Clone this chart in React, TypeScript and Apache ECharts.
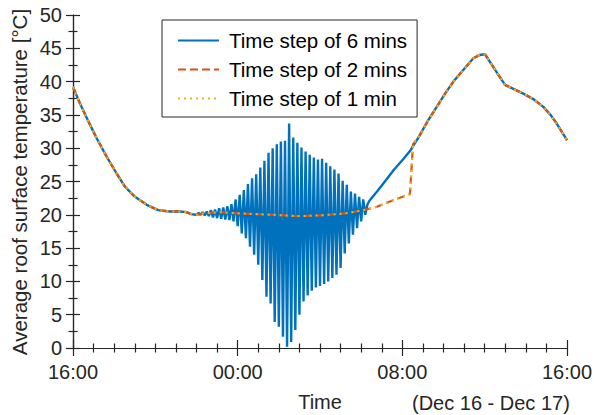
import React, { useEffect, useRef } from "react";
import * as echarts from "echarts";

// Hours after 16:00 on Dec 16
const X_TICK_LABELS = ["16:00", "00:00", "08:00", "16:00"];
const SERIES_NAMES = ["Time step of 6 mins", "Time step of 2 mins", "Time step of 1 min"];

// Evening cooling (shared by all three runs)
const coolingHours = [0, 0.34, 0.83, 1.15, 1.64, 2.12, 2.53, 3.01, 3.58, 4.14, 4.71, 5.2, 5.5, 5.75, 5.95, 6.0];
const coolingTemps = [39.2, 36.7, 33.5, 31.5, 28.7, 26.2, 24.2, 22.7, 21.5, 20.7, 20.5, 20.5, 20.4, 20.1, 20.0, 20.0];

// 6-min run: numerical oscillation, alternating step values (first at 22:06)
const OSC_START_HOUR = 6.1;
const STEP_6MIN = 0.1;
const osc6minHigh = [
  20.3, 20.4, 20.5, 20.7, 20.8, 21.0, 21.1, 21.3, 21.6, 22.3, 23.0, 23.7, 24.6, 25.5,
  26.1, 27.1, 28.1, 29.3, 30.0, 30.6, 31.0, 31.1, 33.7, 31.6, 30.8, 30.1, 29.5, 29.0,
  28.6, 28.3, 28.4, 27.8, 27.3, 26.8, 26.2, 25.1, 24.5, 23.5, 23.2, 22.7, 22.3, 21.5,
];
const osc6minLow = [
  20.0, 19.9, 19.8, 19.6, 19.5, 19.4, 19.3, 19.2, 19.0, 18.3, 17.2, 16.5, 15.2, 14.0,
  12.5, 10.2, 7.7, 6.7, 3.9, 3.2, 1.7, 0.2, 0.9, 2.7, 5.0, 7.0, 7.9, 8.6, 9.1, 9.3,
  9.6, 10.0, 10.5, 11.0, 12.0, 14.2, 15.7, 17.0, 18.0, 19.0, 20.0,
];
const rise6minHours = [14.4, 14.8, 15.2, 15.6, 16.0, 16.4];
const rise6minTemps = [22.1, 23.6, 25.2, 26.8, 28.2, 29.7];

// 2-min / 1-min runs: night plateau and morning jump
const plateauHours = [6.32, 7.14, 8.11, 8.94, 10.4, 10.9, 12.0, 13.2, 14.1, 14.76, 15.56, 16.37, 16.52];
const plateauTemps = [20.2, 20.4, 20.2, 20.1, 19.9, 19.8, 19.9, 20.2, 20.7, 21.2, 22.2, 23.1, 30.6];

// Daytime (shared by all three runs)
const daytimeHours = [16.8, 17.2, 17.67, 18.1, 18.48, 19.0, 19.45, 19.75, 20.02, 20.5, 20.99, 21.4, 21.88, 22.4, 22.85, 23.2, 23.5, 24.0];
const daytimeTemps = [31.7, 33.9, 36.2, 38.3, 40.0, 41.9, 43.5, 44.0, 44.1, 41.8, 39.5, 38.9, 38.2, 37.3, 36.2, 35.0, 33.7, 31.2];

const pairs = (h: number[], v: number[]) => h.map((t, i) => [t, v[i]]);

function build6min() {
  const osc: number[][] = [];
  for (let k = 0; k < osc6minHigh.length; k++) {
    osc.push([OSC_START_HOUR + 2 * k * STEP_6MIN, osc6minHigh[k]]);
    if (k < osc6minLow.length) osc.push([OSC_START_HOUR + (2 * k + 1) * STEP_6MIN, osc6minLow[k]]);
  }
  return [
    ...pairs(coolingHours, coolingTemps),
    ...osc,
    ...pairs(rise6minHours, rise6minTemps),
    ...pairs(daytimeHours, daytimeTemps),
  ];
}

function buildFine() {
  return [
    ...pairs(coolingHours, coolingTemps),
    ...pairs(plateauHours, plateauTemps),
    ...pairs(daytimeHours, daytimeTemps),
  ];
}

const FONT = "'Liberation Sans', Arial, Helvetica, sans-serif";
const AX = "#262626";

export default function App() {
  const ref = useRef<HTMLDivElement>(null);
  useEffect(() => {
    if (!ref.current) return;
    const chart = echarts.init(ref.current, undefined, { renderer: "svg" });
    const axisCommon = {
      axisLine: { show: true, lineStyle: { color: AX, width: 1.2 } },
      splitLine: { show: false },
    };
    chart.setOption({
      animation: false,
      backgroundColor: "#fff",
      grid: {
        left: 73,
        top: 15,
        width: 494,
        height: 333,
        containLabel: false,
        outerBoundsMode: "none",
      },
      xAxis: [
        {
          type: "value",
          min: 0,
          max: 24,
          interval: 8,
          position: "bottom",
          ...axisCommon,
          axisTick: { show: true, inside: true, length: 8, lineStyle: { color: AX, width: 1.2 } },
          minorTick: { show: true, splitNumber: 8, length: 4.5, lineStyle: { color: AX, width: 1.2 } },
          axisLabel: {
            margin: 14,
            fontSize: 20,
            fontFamily: FONT,
            color: AX,
            formatter: (v: number) => X_TICK_LABELS[Math.round(v / 8)] ?? "",
          },
          name: "Time",
          nameLocation: "middle",
          nameGap: 44,
          nameTextStyle: { fontSize: 20, fontFamily: FONT, color: AX },
        },
        {
          type: "value",
          min: 0,
          max: 24,
          interval: 8,
          position: "top",
          ...axisCommon,
          axisTick: { show: true, inside: true, length: 8, lineStyle: { color: AX, width: 1.2 } },
          minorTick: { show: true, splitNumber: 8, length: 4.5, lineStyle: { color: AX, width: 1.2 } },
          axisLabel: { show: false },
        },
      ],
      yAxis: [
        {
          type: "value",
          min: 0,
          max: 50,
          interval: 5,
          position: "left",
          ...axisCommon,
          axisTick: { show: true, inside: true, length: 7, lineStyle: { color: AX, width: 1.2 } },
          minorTick: { show: true, splitNumber: 2, length: 4.5, lineStyle: { color: AX, width: 1.2 } },
          axisLabel: { margin: 11, fontSize: 20, fontFamily: FONT, color: AX },
        },
        {
          type: "value",
          min: 0,
          max: 50,
          interval: 5,
          position: "right",
          ...axisCommon,
          axisTick: { show: true, inside: true, length: 7, lineStyle: { color: AX, width: 1.2 } },
          minorTick: { show: true, splitNumber: 2, length: 4.5, lineStyle: { color: AX, width: 1.2 } },
          axisLabel: { show: false },
        },
      ],
      legend: {
        orient: "vertical",
        left: 162,
        top: 20,
        padding: [10, 10, 8, 15],
        itemWidth: 41,
        itemHeight: 20,
        itemGap: 8,
        borderColor: AX,
        borderWidth: 1,
        backgroundColor: "#fff",
        selectedMode: false,
        itemStyle: { opacity: 0, color: "transparent", borderWidth: 0 },
        textStyle: { fontSize: 20.5, fontFamily: FONT, color: "#000", padding: [0, 0, 0, 5] },
        data: SERIES_NAMES,
      },
      graphic: [
        {
          type: "text",
          x: 19.5,
          y: 182,
          rotation: Math.PI / 2,
          style: {
            text: "Average roof surface temperature [°C]",
            fontSize: 20.5,
            fontFamily: FONT,
            fill: AX,
            align: "center",
            verticalAlign: "middle",
          },
        },
        {
          type: "text",
          x: 412,
          y: 403,
          style: {
            text: "(Dec 16 - Dec 17)",
            fontSize: 20,
            fontFamily: FONT,
            fill: AX,
            align: "left",
            verticalAlign: "middle",
          },
        },
      ],
      series: [
        {
          name: SERIES_NAMES[0],
          type: "line",
          xAxisIndex: 0,
          yAxisIndex: 0,
          symbol: "none",
          data: build6min(),
          lineStyle: { color: "#0072BD", width: 2.4 },
          itemStyle: { color: "#0072BD" },
          z: 2,
        },
        {
          name: SERIES_NAMES[1],
          type: "line",
          xAxisIndex: 0,
          yAxisIndex: 0,
          symbol: "none",
          data: buildFine(),
          lineStyle: { color: "#D95319", width: 2.2, type: [8, 4] },
          itemStyle: { color: "#D95319" },
          z: 3,
        },
        {
          name: SERIES_NAMES[2],
          type: "line",
          xAxisIndex: 0,
          yAxisIndex: 0,
          symbol: "none",
          data: buildFine(),
          lineStyle: { color: "#EDB120", width: 2, type: [2, 4] },
          itemStyle: { color: "#EDB120" },
          z: 4,
        },
      ],
    });
    return () => chart.dispose();
  }, []);
  return (
    <div
      ref={ref}
      style={{ position: "absolute", left: 0, top: 0, width: 594, height: 415 }}
    />
  );
}
